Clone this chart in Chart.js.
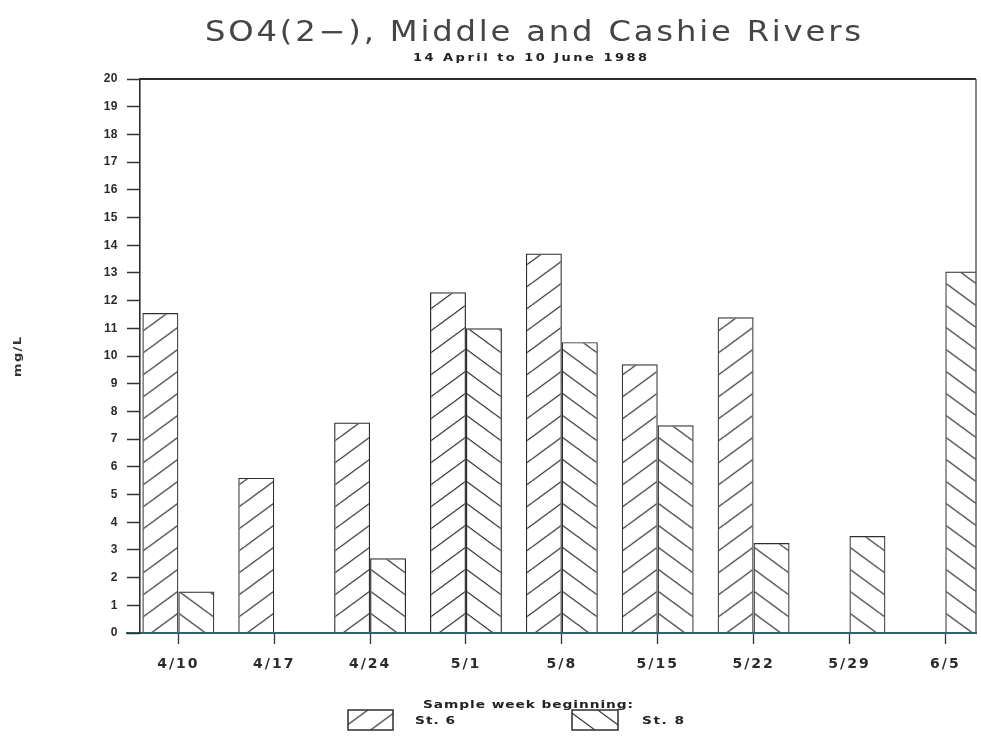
<!DOCTYPE html>
<html>
<head>
<meta charset="utf-8">
<script src="https://cdn.jsdelivr.net/npm/chart.js@4.4.0/dist/chart.umd.min.js"></script>
<style>
  html, body { margin: 0; padding: 0; background: #ffffff; }
  #wrap { width: 981px; height: 736px; }
  canvas { display: block; }
</style>
</head>
<body>
<div id="wrap"><canvas id="c" width="981" height="736"></canvas></div>
<script>
// Sulfate concentrations (mg/L) by sample week, two stations
const weeks = ['4/10', '4/17', '4/24', '5/1', '5/8', '5/15', '5/22', '5/29', '6/5'];
const st6 = [11.55, 5.6, 7.6, 12.3, 13.7, 9.7, 11.4, null, null];
const st8 = [1.5, null, 2.7, 11.0, 10.5, 7.5, 3.25, 3.5, 13.05];
const seriesNames = ['St. 6', 'St. 8'];
const yTickValues = [0, 1, 2, 3, 4, 5, 6, 7, 8, 9, 10, 11, 12, 13, 14, 15, 16, 17, 18, 19, 20];

const titleText = 'SO4(2\u2212), Middle and Cashie Rivers';
const subtitleText = '14 April to 10 June 1988';
const xTitleText = 'Sample week beginning:';
const yTitleText = 'mg/L';

const INK = '#2e2e2e';
const BASELINE = '#2c6272';

const canvas = document.getElementById('c');
const ctx2d = canvas.getContext('2d');
const HAS_LS = 'letterSpacing' in ctx2d;

// One hatch tile: dir = 1 draws '/', dir = -1 draws '\'
function hatchTile(dir) {
  const W = 30, H = 22;
  const c = document.createElement('canvas');
  c.width = W; c.height = H;
  const g = c.getContext('2d');
  g.strokeStyle = '#3a3a3a';
  g.lineWidth = 1.25;
  g.beginPath();
  for (const k of [-1, 0, 1]) {
    if (dir > 0) { g.moveTo(0, H + k * H); g.lineTo(W, k * H); }
    else { g.moveTo(0, k * H); g.lineTo(W, H + k * H); }
  }
  g.stroke();
  return c;
}
const tiles = { up: hatchTile(1), down: hatchTile(-1) };

// Scriptable fill: the hatch is anchored at each week's tick so the
// two stations' lines meet in chevrons along the shared edge.
function hatchFill(tile) {
  return (c) => {
    const pat = ctx2d.createPattern(tile, 'repeat');
    const ch = c.chart;
    if (c.type === 'data' && ch.scales && ch.scales.x && ch.scales.y) {
      const px = ch.scales.x.getPixelForValue(c.dataIndex);
      const py = ch.scales.y.getPixelForValue(0);
      pat.setTransform(new DOMMatrix().translate(px, py - 20));
    }
    return pat;
  };
}

const toPoints = (arr) => arr.map((v, i) => ({ x: i, y: v }));

// Wide plotter-style lettering: stretch glyphs a little, then space them out
function wideText(ctx, text, x, cy, font, width, color, align, maxScale) {
  ctx.save();
  ctx.font = font;
  if (HAS_LS) ctx.letterSpacing = '0px';
  const n = [...text].length;
  const w0 = ctx.measureText(text).width;
  let sx = 1, ls = 0;
  if (width && width > w0) {
    sx = Math.min(width / w0, maxScale || 1.25);
    if (HAS_LS && n > 1) ls = (width - w0 * sx) / (n - 1) / sx;
  }
  const total = HAS_LS ? width || w0 : w0 * sx;
  const left = align === 'left' ? x : x - total / 2;
  ctx.translate(left, cy);
  ctx.scale(sx, 1);
  if (HAS_LS) ctx.letterSpacing = ls + 'px';
  ctx.fillStyle = color;
  ctx.textBaseline = 'middle';
  ctx.textAlign = 'left';
  ctx.fillText(text, 0, 0);
  ctx.restore();
}

const decorations = {
  id: 'decorations',
  beforeDraw(chart) {
    const ctx = chart.ctx;
    ctx.save();
    ctx.fillStyle = '#ffffff';
    ctx.fillRect(0, 0, chart.width, chart.height);
    ctx.restore();
    // spacing for the week labels (x axis is drawn before the bars)
    if (HAS_LS) ctx.letterSpacing = '2px';
  },
  afterDatasetsDraw(chart) {
    const ctx = chart.ctx;
    const a = chart.chartArea;
    if (HAS_LS) ctx.letterSpacing = '0px';
    ctx.save();
    // top and right frame
    ctx.strokeStyle = INK;
    ctx.lineWidth = 1.8;
    ctx.beginPath();
    ctx.moveTo(a.left, a.top);
    ctx.lineTo(a.right, a.top);
    ctx.stroke();
    ctx.lineWidth = 1.4;
    ctx.strokeStyle = '#555';
    ctx.beginPath();
    ctx.moveTo(a.right, a.top);
    ctx.lineTo(a.right, a.bottom);
    ctx.stroke();
    // zero line on top of the bars
    ctx.strokeStyle = BASELINE;
    ctx.lineWidth = 2;
    ctx.beginPath();
    ctx.moveTo(a.left - 14, a.bottom);
    ctx.lineTo(a.right, a.bottom);
    ctx.stroke();
    ctx.restore();
    // spacing for the value labels (y axis is drawn after the bars)
    if (HAS_LS) ctx.letterSpacing = '0.5px';
  },
  afterDraw(chart) {
    const ctx = chart.ctx;
    if (HAS_LS) ctx.letterSpacing = '0px';
    ctx.save();
    wideText(ctx, titleText, 533, 34, '28px "DejaVu Sans"', 656, '#454545', 'center', 1.15);
    wideText(ctx, subtitleText, 530, 58, 'bold 10px "DejaVu Sans"', 234, '#222', 'center', 1.3);
    wideText(ctx, xTitleText, 528, 705, 'bold 11px "DejaVu Sans"', 210, '#222', 'center', 1.25);
    ctx.save();
    ctx.translate(18, 357);
    ctx.rotate(-Math.PI / 2);
    wideText(ctx, yTitleText, 0, 0, 'bold 10px "DejaVu Sans"', 40, '#333', 'center', 1.3);
    ctx.restore();
    // legend
    const boxes = [
      { x: 348, y: 710, w: 45, h: 20, tile: tiles.up, tx: 415, tw: 40 },
      { x: 572, y: 710, w: 46, h: 20, tile: tiles.down, tx: 642, tw: 42 }
    ];
    boxes.forEach((b, i) => {
      const pat = ctx.createPattern(b.tile, 'repeat');
      pat.setTransform(new DOMMatrix().translate(b.x + b.w / 2, b.y + b.h));
      ctx.fillStyle = pat;
      ctx.fillRect(b.x, b.y, b.w, b.h);
      ctx.strokeStyle = INK;
      ctx.lineWidth = 1.5;
      ctx.strokeRect(b.x, b.y, b.w, b.h);
      wideText(ctx, seriesNames[i], b.tx, b.y + b.h / 2 + 1, 'bold 11px "DejaVu Sans"', b.tw, '#222', 'left', 1.25);
    });
    ctx.restore();
  }
};

new Chart(canvas, {
  type: 'bar',
  data: {
    datasets: [
      {
        label: seriesNames[0],
        data: toPoints(st6),
        backgroundColor: hatchFill(tiles.up),
        borderColor: INK,
        borderWidth: 1.2,
        clip: 0
      },
      {
        label: seriesNames[1],
        data: toPoints(st8),
        backgroundColor: hatchFill(tiles.down),
        borderColor: INK,
        borderWidth: 1.2,
        clip: 0
      }
    ]
  },
  options: {
    responsive: false,
    animation: false,
    events: [],
    layout: { padding: { top: 79, right: 5, bottom: 0, left: 0 } },
    datasets: { bar: { categoryPercentage: 0.75, barPercentage: 1.0 } },
    plugins: {
      legend: { display: false },
      title: { display: false },
      tooltip: { enabled: false }
    },
    scales: {
      x: {
        type: 'linear',
        offset: false,
        min: -0.4,
        max: 8.32,
        afterFit: (s) => { s.height = 103; },
        afterBuildTicks: (s) => { s.ticks = weeks.map((_, i) => ({ value: i })); },
        grid: {
          display: true,
          offset: false,
          drawOnChartArea: false,
          drawTicks: true,
          tickLength: 11,
          tickColor: '#333',
          tickWidth: 1.3
        },
        border: { display: true, color: BASELINE, width: 2 },
        ticks: {
          autoSkip: false,
          maxRotation: 0,
          padding: 12,
          color: '#2a2a2a',
          font: { family: 'DejaVu Sans', size: 14, weight: 'bold' },
          callback: (v) => weeks[v]
        }
      },
      y: {
        min: 0,
        max: 20,
        afterFit: (s) => { s.width = 140; },
        afterBuildTicks: (s) => { s.ticks = yTickValues.map((v) => ({ value: v })); },
        grid: {
          display: true,
          z: 1,
          drawOnChartArea: false,
          drawTicks: true,
          tickLength: 13,
          tickColor: '#333',
          tickWidth: 1.5
        },
        border: { display: true, color: INK, width: 1.6, z: 1 },
        ticks: {
          z: 1,
          padding: 9,
          color: '#2a2a2a',
          font: { family: 'Liberation Sans', size: 12, weight: 'bold' },
          callback: (v) => String(v)
        }
      }
    }
  },
  plugins: [decorations]
});
</script>
</body>
</html>
